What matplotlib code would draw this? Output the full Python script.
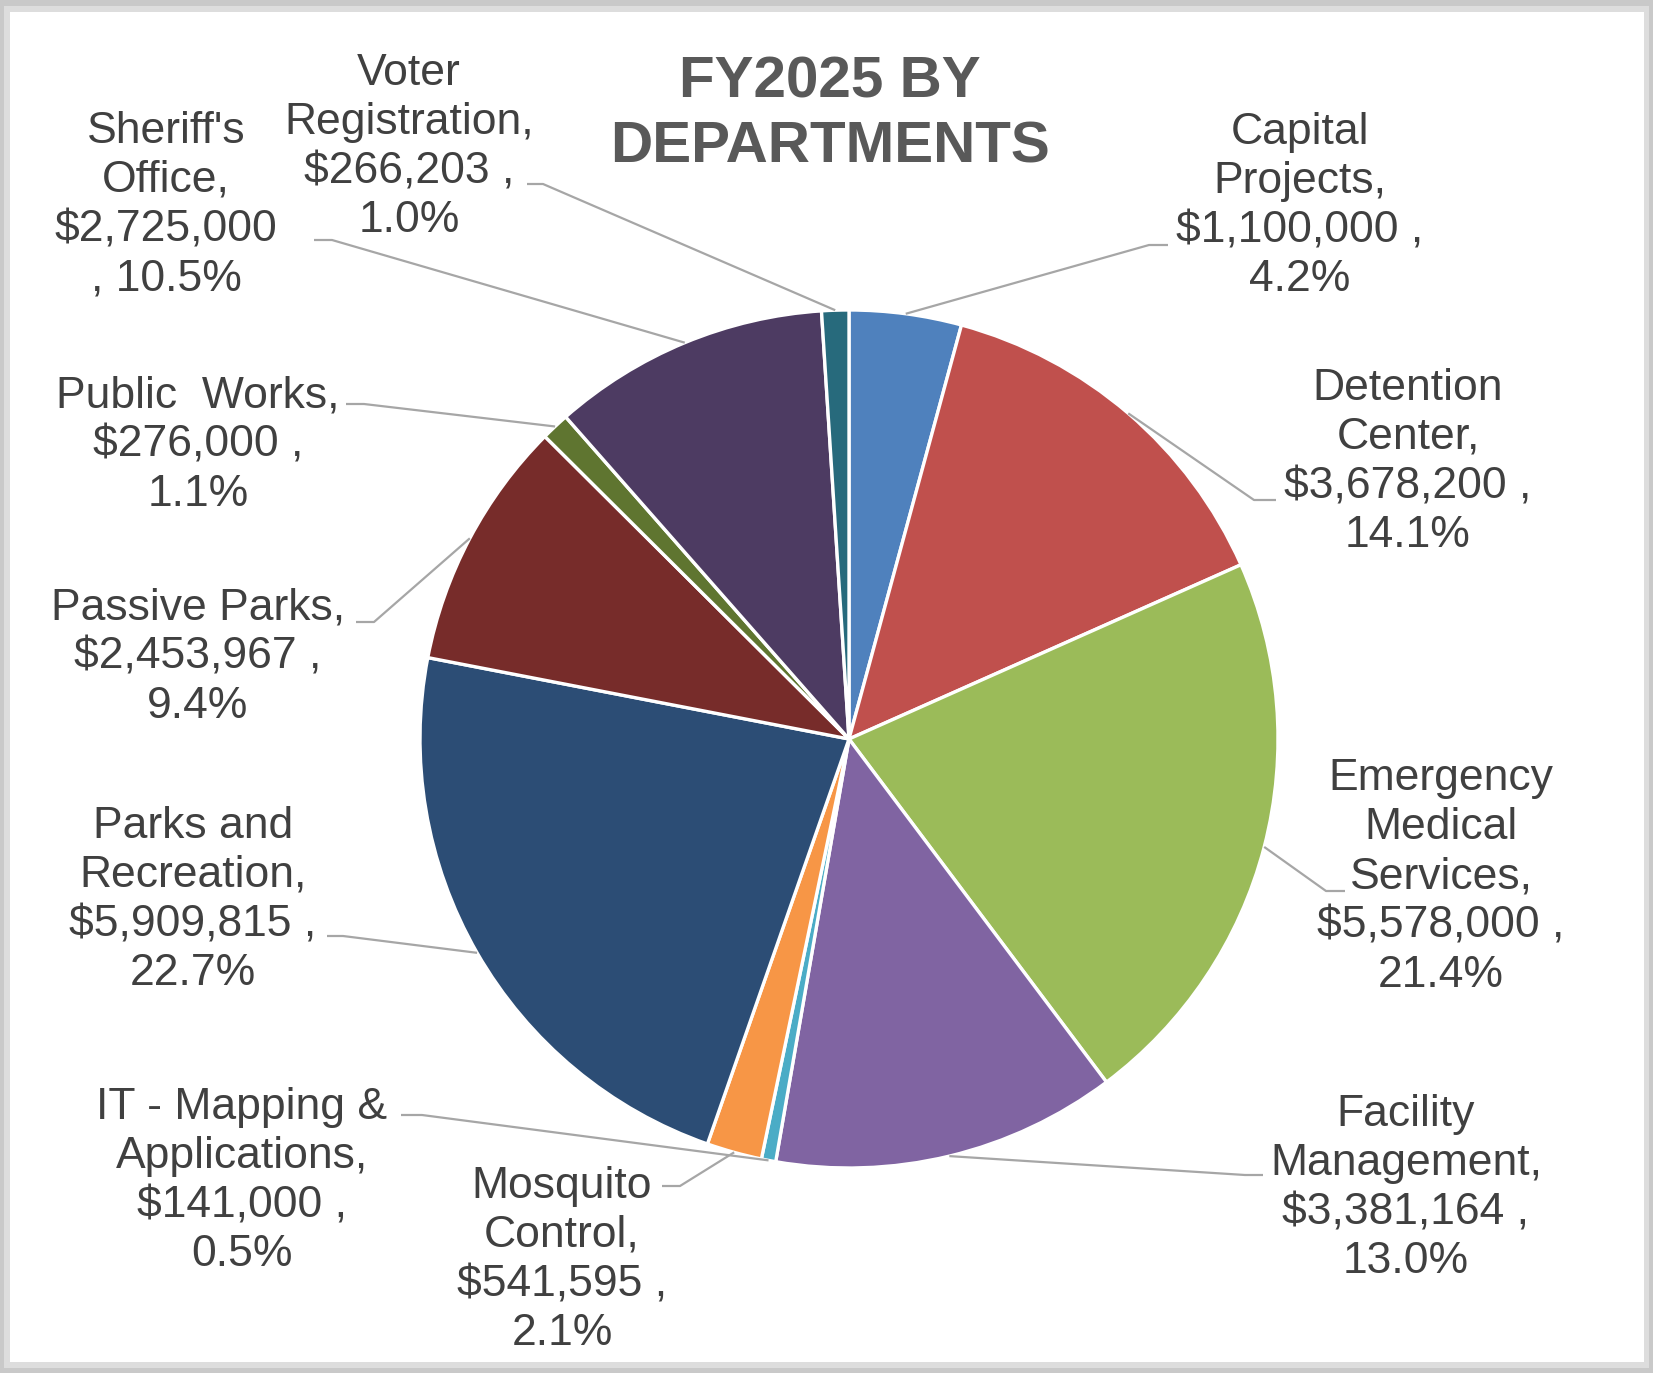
import numpy as np
import matplotlib
matplotlib.use("Agg")
import matplotlib.pyplot as plt
from matplotlib.patches import Rectangle

plt.rcParams["font.family"] = ["Liberation Sans", "DejaVu Sans"]

# Presupuesto FY2025 por departamento
departments = [
    "Capital\nProjects", "Detention\nCenter", "Emergency\nMedical\nServices",
    "Facility\nManagement", "IT - Mapping &\nApplications", "Mosquito\nControl",
    "Parks and\nRecreation", "Passive Parks", "Public  Works", "Sheriff's\nOffice",
    "Voter\nRegistration",
]
amounts = [1100000, 3678200, 5578000, 3381164, 141000, 541595,
           5909815, 2453967, 276000, 2725000, 266203]
colors = ["#4F81BD", "#C0504D", "#9BBB59", "#8064A2", "#4BACC6", "#F79646",
          "#2C4D75", "#772C2A", "#5F7530", "#4D3B62", "#276A7C"]

W, H = 1653, 1373
CX, CY, R = 849, 739, 429

# posiciones de etiquetas (px de imagen): centro del texto, extremo de la guia, codo
label_pos = [(1300, 206), (1408, 462), (1441, 877), (1406, 1188), (242, 1181),
             (562, 1260), (193, 900), (198, 657), (198, 445), (166, 205), (409, 147)]
leader_knee = [(1168, 1149, 245), (1276, 1254, 500), (1345, 1326, 891),
               (1263, 1245, 1175), (401, 422, 1115), (662, 680, 1186),
               (327, 343, 936), (356, 374, 622), (346, 364, 404),
               (314, 332, 240), (527, 543, 184)]


def fy(y):
    return H - y


fig = plt.figure(figsize=(W / 100, H / 100), dpi=100)
fig.patch.set_facecolor("#C9C9C9")
ax = fig.add_axes([0, 0, 1, 1])

# marco tipo tarjeta
ax.add_patch(Rectangle((4, fy(1368)), W - 8, 1362, facecolor="#DDDDDD", edgecolor="none", zorder=0))
ax.add_patch(Rectangle((10, fy(1362)), W - 19, 1350, facecolor="white", edgecolor="none", zorder=0))

wedges, _ = ax.pie(amounts, colors=colors, startangle=90, counterclock=False,
                   center=(CX, fy(CY)), radius=R,
                   wedgeprops=dict(edgecolor="white", linewidth=2.4))
for w in wedges:
    w.set_zorder(2)

total = sum(amounts)
for i, (name, val) in enumerate(zip(departments, amounts)):
    pct = 100 * val / total
    if name.startswith("Sheriff"):
        txt = f"{name},\n${val:,}\n, {pct:.1f}%"
    else:
        txt = f"{name},\n${val:,} ,\n{pct:.1f}%"
    lx, ly = label_pos[i]
    ax.text(lx, fy(ly), txt, ha="center", va="center", fontsize=32,
            color="#404040", linespacing=1.26, zorder=4)

    # guia desde el borde de la porcion
    mid = np.deg2rad((wedges[i].theta1 + wedges[i].theta2) / 2)
    ex, ey = CX + R * np.cos(mid), fy(CY) + R * np.sin(mid)
    x0, x1, yk = leader_knee[i]
    ax.plot([x0, x1, ex], [fy(yk), fy(yk), ey], color="#A6A6A6", lw=1.6,
            solid_capstyle="butt", zorder=3)

ax.text(830, fy(115), "FY2025 BY\nDEPARTMENTS", ha="center", va="center",
        fontsize=42, fontweight="bold", color="#595959", linespacing=1.25, zorder=4)

ax.set_xlim(0, W)
ax.set_ylim(0, H)
ax.set_aspect("equal")
ax.axis("off")

fig.savefig("out.png", dpi=100, facecolor=fig.get_facecolor())
